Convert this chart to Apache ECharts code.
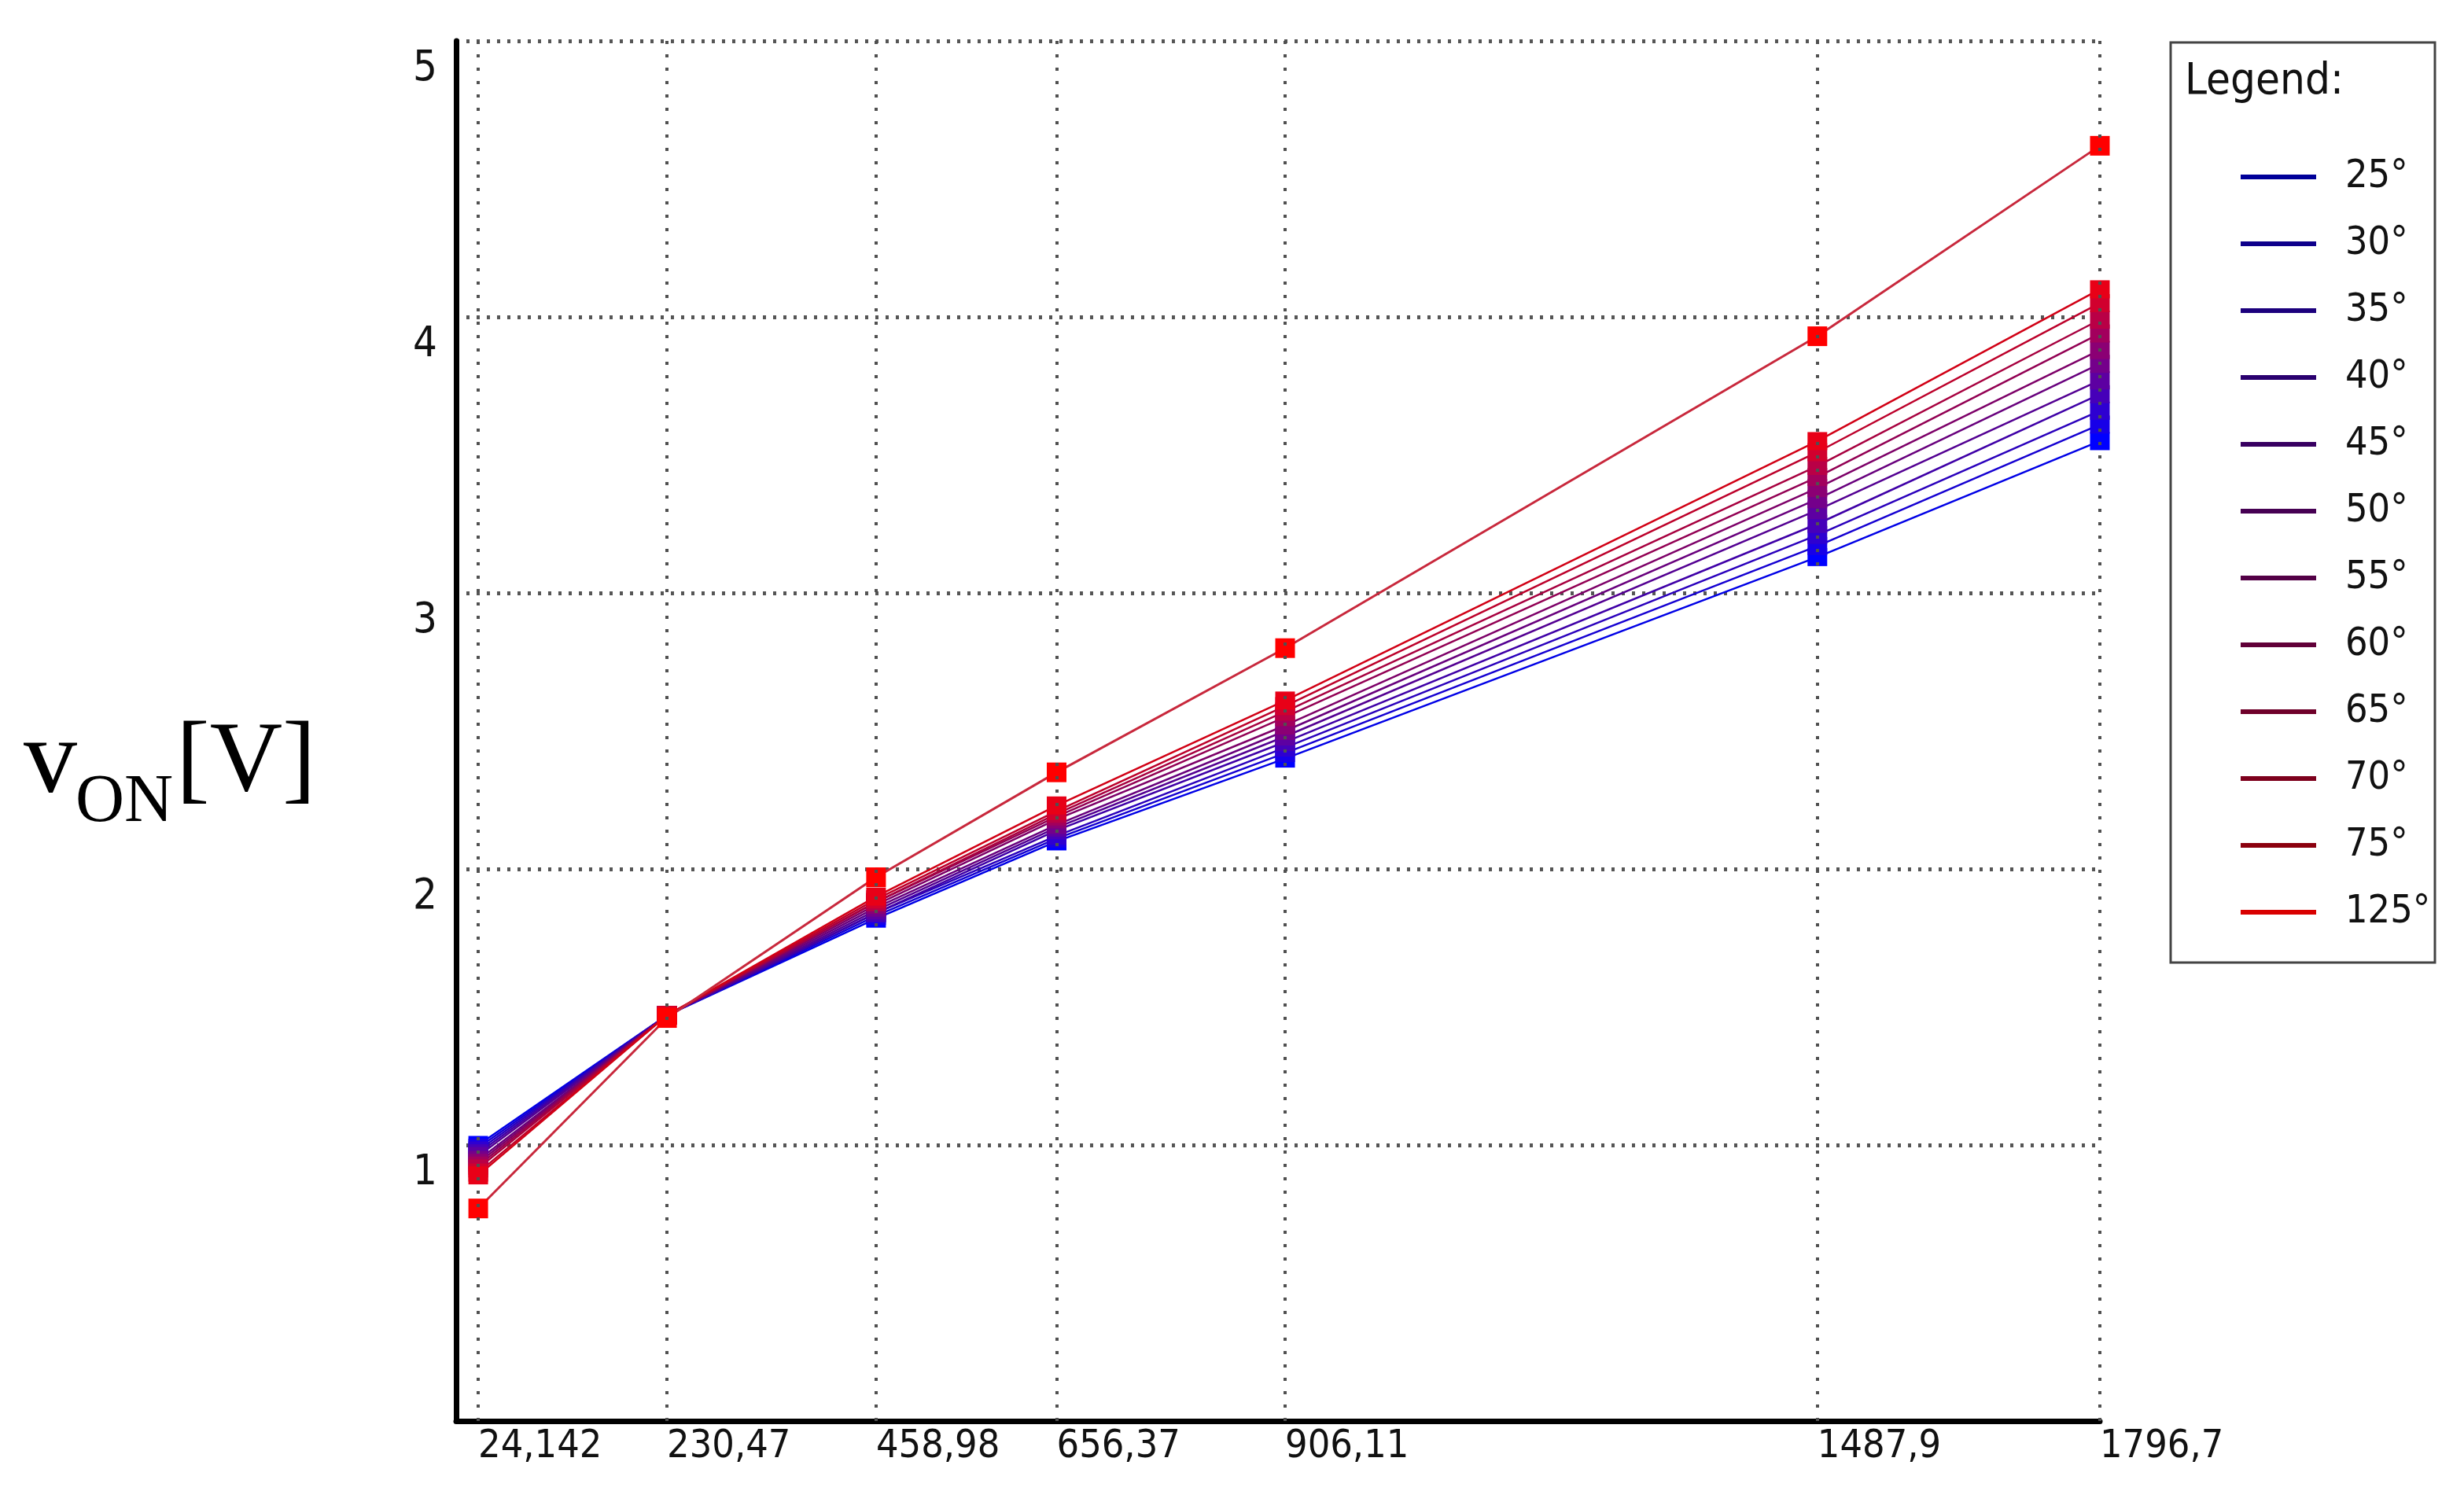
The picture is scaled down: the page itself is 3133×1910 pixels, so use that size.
<!DOCTYPE html>
<html>
<head>
<meta charset="utf-8">
<script src="https://cdn.jsdelivr.net/npm/echarts@6/dist/echarts.min.js"></script>
<style>html,body{margin:0;padding:0;background:#fff;}#chart{width:3133px;height:1910px;}</style>
</head>
<body>
<div id="chart"></div>
<script>
// ---- data ----
const xValues = [24.142, 230.47, 458.98, 656.37, 906.11, 1487.9, 1796.7];
const xLabels = ['24,142', '230,47', '458,98', '656,37', '906,11', '1487,9', '1796,7'];
const yTicks = [1, 2, 3, 4, 5];
const seriesNames = ['25°', '30°', '35°', '40°', '45°', '50°', '55°', '60°', '65°', '70°', '75°', '125°'];
const v25  = [1.00, 1.47, 1.82, 2.10, 2.40, 3.13, 3.55];
const v30  = [0.99, 1.47, 1.83, 2.11, 2.42, 3.17, 3.61];
const v35  = [0.98, 1.47, 1.84, 2.12, 2.44, 3.21, 3.66];
const v40  = [0.97, 1.47, 1.84, 2.14, 2.46, 3.25, 3.72];
const v45  = [0.96, 1.47, 1.85, 2.15, 2.48, 3.30, 3.77];
const v50  = [0.945, 1.47, 1.86, 2.16, 2.50, 3.34, 3.83];
const v55  = [0.935, 1.47, 1.87, 2.18, 2.52, 3.38, 3.88];
const v60  = [0.925, 1.47, 1.88, 2.19, 2.55, 3.42, 3.94];
const v65  = [0.915, 1.47, 1.88, 2.20, 2.57, 3.46, 3.99];
const v70  = [0.90, 1.47, 1.89, 2.21, 2.59, 3.51, 4.05];
const v75  = [0.89, 1.47, 1.90, 2.23, 2.61, 3.55, 4.10];
const v125 = [0.77, 1.46, 1.97, 2.35, 2.80, 3.93, 4.62];
const seriesValues = [v25, v30, v35, v40, v45, v50, v55, v60, v65, v70, v75, v125];

// ---- styling helpers ----
function mix(t, k) {
  const r = Math.round(255 * t * k), b = Math.round(255 * (1 - t) * k);
  return 'rgb(' + r + ',0,' + b + ')';
}
const n = seriesNames.length;
const FONT = "'Liberation Sans Narrow', 'DejaVu Sans Condensed', 'DejaVu Sans', sans-serif";

const series = seriesNames.map((name, i) => {
  const t = i / (n - 1);
  const last = i === n - 1;
  return {
    name: name,
    type: 'line',
    z: 3,
    data: xValues.map((x, j) => [x, seriesValues[i][j]]),
    symbol: 'rect',
    symbolSize: last ? [25, 25] : [25, 23],
    showAllSymbol: true,
    itemStyle: { color: mix(t, 1) },
    lineStyle: { width: last ? 3 : 2.5, color: last ? '#c8283c' : mix(t, 0.9) }
  };
});

// vertical dotted grid lines at the data x positions
series.push({
  name: 'grid',
  type: 'line',
  data: [],
  z: 1,
  markLine: {
    silent: true,
    symbol: 'none',
    label: { show: false },
    lineStyle: { type: [4, 13], width: 4, color: '#505050' },
    data: xValues.map(v => ({ xAxis: v }))
  }
});

const chart = echarts.init(document.getElementById('chart'), null, { renderer: 'canvas' });
chart.setOption({
  animation: false,
  backgroundColor: '#ffffff',
  grid: { left: 580, right: 463, top: 52, bottom: 103, containLabel: false },
  xAxis: {
    type: 'value',
    min: 0,
    max: 1796.7,
    axisLine: { show: true, lineStyle: { color: '#000', width: 7 } },
    axisTick: { show: false },
    splitLine: { show: false },
    axisLabel: {
      customValues: xValues,
      formatter: v => { const k = xValues.indexOf(v); return k >= 0 ? xLabels[k] : ''; },
      align: 'left',
      margin: 8,
      fontSize: 50,
      fontFamily: FONT,
      color: '#111'
    }
  },
  yAxis: {
    type: 'value',
    min: 0,
    max: 5,
    interval: 1,
    axisLine: { show: true, lineStyle: { color: '#000', width: 7 } },
    axisTick: { show: false },
    splitLine: { show: true, lineStyle: { type: [4, 9], width: 5, color: '#555' } },
    axisLabel: {
      formatter: v => (yTicks.indexOf(v) >= 0 ? String(v) : ''),
      verticalAlign: 'top',
      lineHeight: 72,
      margin: 24,
      fontSize: 54,
      fontFamily: FONT,
      color: '#111'
    }
  },
  legend: {
    orient: 'vertical',
    left: 2844,
    top: 190,
    selectedMode: false,
    icon: 'rect',
    itemWidth: 96,
    itemHeight: 6,
    itemGap: 25,
    textStyle: { fontSize: 50, lineHeight: 60, fontFamily: FONT, color: '#111', padding: [0, 0, 0, 32] },
    data: seriesNames.map((name, i) => ({ name: name, itemStyle: { color: mix(i / (n - 1), i === n - 1 ? 0.85 : 0.6) } }))
  },
  graphic: [
    { type: 'rect', z: 0, shape: { x: 2760, y: 54, width: 336, height: 1170 },
      style: { fill: '#fff', stroke: '#444', lineWidth: 3 } },
    { type: 'text', z: 1, x: 2778, y: 104,
      style: { text: 'Legend:', fontSize: 56, fontFamily: FONT, fill: '#111', verticalAlign: 'middle' } },
    { type: 'text', x: 30, y: 971,
      style: { text: 'v', fontSize: 136, fontFamily: "'Liberation Serif', serif", fill: '#000', verticalAlign: 'middle' } },
    { type: 'text', x: 96, y: 1021,
      style: { text: 'ON', fontSize: 86, fontFamily: "'Liberation Serif', serif", fill: '#000', verticalAlign: 'middle' } },
    { type: 'text', x: 224, y: 971,
      style: { text: '[V]', fontSize: 128, fontFamily: "'Liberation Serif', serif", fill: '#000', verticalAlign: 'middle' } }
  ],
  series: series
});
</script>
</body>
</html>
